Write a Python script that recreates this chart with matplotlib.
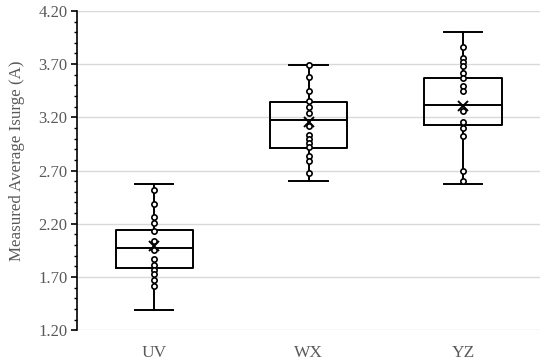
import matplotlib
matplotlib.use("Agg")
import numpy as np
import matplotlib.pyplot as plt
from matplotlib.ticker import MultipleLocator, FormatStrFormatter

plt.rcParams['font.family'] = ['Liberation Serif', 'DejaVu Serif']

groups = ["UV", "WX", "YZ"]

# box stats
whislo = [1.387, 2.599, 2.575]
q1 = [1.788, 2.912, 3.131]
med = [1.975, 3.175, 3.315]
q3 = [2.137, 3.346, 3.574]
whishi = [2.575, 3.693, 4.005]
means = [1.99, 3.152, 3.31]

# inner points
pts_uv = [2.519, 2.381, 2.262, 2.206, 2.128, 2.034, 1.95, 1.872, 1.809,
          1.762, 1.731, 1.675, 1.612]
pts_wx = [3.693, 3.583, 3.443, 3.349, 3.293, 3.240, 3.121, 3.037, 2.997,
          2.955, 2.918, 2.840, 2.793, 2.678]
pts_yz = [3.865, 3.756, 3.724, 3.684, 3.621, 3.565, 3.496, 3.449, 3.262,
          3.152, 3.100, 3.028, 2.693, 2.606]
points = [pts_uv, pts_wx, pts_yz]

fig = plt.figure(figsize=(5.5, 3.64), dpi=100)
ax = fig.add_axes([0.14, 0.093, 0.842, 0.877])

stats = []
for i, g in enumerate(groups):
    stats.append(dict(label=g, whislo=whislo[i], q1=q1[i], med=med[i],
                      q3=q3[i], whishi=whishi[i], mean=means[i], fliers=[]))

pos = np.arange(len(groups))
lw = 1.4
ax.bxp(stats, positions=pos, widths=0.5, showfliers=False,
       boxprops=dict(color="black", linewidth=lw),
       medianprops=dict(color="black", linewidth=lw),
       whiskerprops=dict(color="black", linewidth=lw),
       capprops=dict(color="black", linewidth=lw),
       showmeans=False, zorder=3)

for i, p in enumerate(points):
    ax.plot(np.full(len(p), pos[i]), p, "o", ms=3.8, mfc="white",
            mec="black", mew=1.2, zorder=4, linestyle="none")
ax.plot(pos, means, "x", color="black", ms=7, mew=1.4, zorder=5,
        linestyle="none")

ax.set_xlim(-0.5, 2.5)
ax.set_ylim(1.2, 4.2)
ax.yaxis.set_major_locator(MultipleLocator(0.5, offset=0.2))
ax.yaxis.set_minor_locator(MultipleLocator(0.1))
ax.yaxis.set_major_formatter(FormatStrFormatter("%.2f"))
ax.set_xticks(pos)
ax.set_xticklabels(groups)

ax.grid(axis="y", which="major", color="#d9d9d9", linewidth=1.0, zorder=0)
ax.set_axisbelow(True)
for s in ["top", "right", "bottom"]:
    ax.spines[s].set_visible(False)
ax.spines["left"].set_linewidth(1.2)
ax.spines["left"].set_color("black")

ax.tick_params(axis="y", which="major", direction="out", length=4,
               width=1.2, labelsize=12, labelcolor="#595959", pad=3)
ax.tick_params(axis="y", which="minor", direction="out", length=2.5,
               width=1.0)
ax.tick_params(axis="x", length=0, labelsize=12.5, labelcolor="#595959",
               pad=11)

ax.set_ylabel("Measured Average Isurge (A)", fontsize=12.2, color="#595959")
ax.yaxis.set_label_coords(-0.113, 0.53)

fig.savefig("out.png", dpi=100)
